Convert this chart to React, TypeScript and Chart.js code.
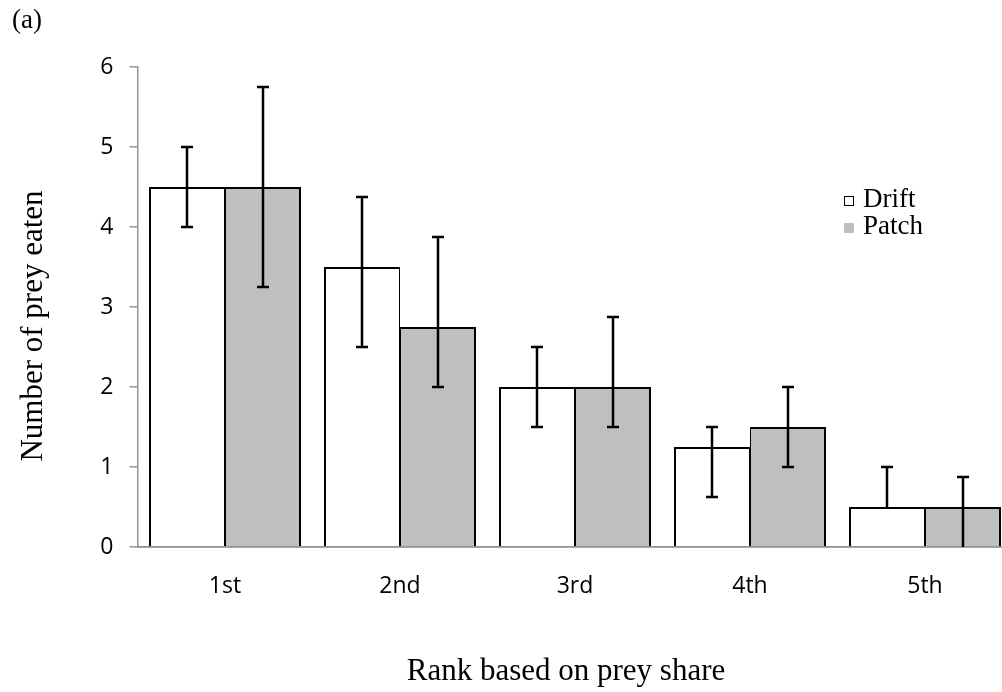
import React, { useEffect, useRef } from "react";
import { Chart, registerables } from "chart.js";

Chart.register(...registerables);

const categories = ["1st", "2nd", "3rd", "4th", "5th"];
const driftMeans = [4.5, 3.5, 2.0, 1.25, 0.5];
const patchMeans = [4.5, 2.75, 2.0, 1.5, 0.5];
const driftUpper = [5.0, 4.375, 2.5, 1.5, 1.0];
const driftLower: (number | null)[] = [4.0, 2.5, 1.5, 0.625, null];
const patchUpper = [5.75, 3.875, 2.875, 2.0, 0.875];
const patchLower: (number | null)[] = [3.25, 2.0, 1.5, 1.0, 0];
const yMin = 0;
const yMax = 6;
const yStep = 1;
const seriesNames = ["Drift", "Patch"];
const yTitle = "Number of prey eaten";
const xTitle = "Rank based on prey share";
const panelLabel = "(a)";

const AXIS = "#969696";
const PATCH_FILL = "#bfbfbf";
const SERIF = "'Liberation Serif', 'Times New Roman', serif";
const SANS = "'Open Sans', 'DejaVu Sans', sans-serif";

const overlayPlugin = {
  id: "overlay",
  afterDatasetsDraw(chart: any) {
    const ctx = chart.ctx;
    const y = chart.scales.y;
    const area = chart.chartArea;
    ctx.save();
    ctx.strokeStyle = AXIS;
    ctx.lineWidth = 1.5;
    ctx.beginPath();
    ctx.moveTo(area.left, area.bottom);
    ctx.lineTo(area.right, area.bottom);
    ctx.stroke();

    const sets = [
      { up: driftUpper, lo: driftLower, mean: driftMeans },
      { up: patchUpper, lo: patchLower, mean: patchMeans },
    ];
    ctx.strokeStyle = "#000";
    ctx.lineWidth = 2.5;
    const cap = 6;
    sets.forEach((s, di) => {
      const meta = chart.getDatasetMeta(di);
      meta.data.forEach((el: any, i: number) => {
        const x = el.x;
        const yTop = y.getPixelForValue(s.up[i]);
        const lo = s.lo[i];
        const yBot = lo == null ? y.getPixelForValue(s.mean[i]) : y.getPixelForValue(lo);
        ctx.beginPath();
        ctx.moveTo(x, yTop);
        ctx.lineTo(x, yBot);
        ctx.moveTo(x - cap, yTop);
        ctx.lineTo(x + cap, yTop);
        if (lo != null && lo > 0) {
          ctx.moveTo(x - cap, yBot);
          ctx.lineTo(x + cap, yBot);
        }
        ctx.stroke();
      });
    });
    ctx.restore();
  },
  afterDraw(chart: any) {
    const ctx = chart.ctx;
    ctx.save();
    ctx.fillStyle = "#000";
    ctx.font = `27px ${SERIF}`;
    ctx.textAlign = "left";
    ctx.textBaseline = "alphabetic";
    ctx.fillText(panelLabel, 12, 28);

    ctx.font = `31px ${SERIF}`;
    ctx.textAlign = "center";
    ctx.fillText(xTitle, 566, 680);

    ctx.save();
    ctx.translate(42, 326);
    ctx.rotate(-Math.PI / 2);
    ctx.textAlign = "center";
    ctx.fillText(yTitle, 0, 0);
    ctx.restore();

    ctx.font = `27px ${SERIF}`;
    ctx.textAlign = "left";
    ctx.strokeStyle = "#000";
    ctx.lineWidth = 1;
    ctx.strokeRect(844.5, 196.5, 9, 9);
    ctx.fillText(seriesNames[0], 863, 207);
    ctx.fillStyle = PATCH_FILL;
    ctx.fillRect(844, 223, 10, 10);
    ctx.fillStyle = "#000";
    ctx.fillText(seriesNames[1], 863, 234);
    ctx.restore();
  },
};

export default function App() {
  const ref = useRef<HTMLCanvasElement | null>(null);
  useEffect(() => {
    document.body.style.margin = "0";
    document.body.style.overflow = "hidden";
    const canvas = ref.current;
    if (!canvas) return;
    const chart = new Chart(canvas, {
      type: "bar",
      data: {
        labels: categories,
        datasets: [
          {
            label: seriesNames[0],
            data: driftMeans,
            backgroundColor: "#ffffff",
            borderColor: "#000000",
            borderWidth: { top: 2, left: 2, right: 1, bottom: 0 } as any,
            borderSkipped: "start",
            categoryPercentage: 0.8686,
            barPercentage: 1,
          },
          {
            label: seriesNames[1],
            data: patchMeans,
            backgroundColor: PATCH_FILL,
            borderColor: "#000000",
            borderWidth: { top: 2, left: 1, right: 2, bottom: 0 } as any,
            borderSkipped: "start",
            categoryPercentage: 0.8686,
            barPercentage: 1,
          },
        ],
      },
      options: {
        responsive: false,
        animation: false,
        layout: { padding: { top: 67, left: 0, right: 7.5, bottom: 0 } },
        plugins: {
          legend: { display: false },
          tooltip: { enabled: false },
          title: { display: false },
        },
        scales: {
          x: {
            type: "category",
            offset: true,
            grid: { display: false, drawTicks: false },
            border: { display: true, color: AXIS, width: 1.5 },
            ticks: {
              color: "#000",
              font: { family: SANS, size: 23 },
              padding: 26,
              maxRotation: 0,
            },
            afterFit: (s: any) => {
              s.height = 145;
            },
          },
          y: {
            min: yMin,
            max: yMax,
            grid: {
              display: true,
              drawOnChartArea: false,
              drawTicks: true,
              tickLength: 8,
              color: AXIS,
              lineWidth: 1.5,
            },
            border: { display: true, color: AXIS, width: 1.5 },
            ticks: {
              stepSize: yStep,
              color: "#000",
              font: { family: SANS, size: 23 },
              padding: 16,
            },
            afterFit: (s: any) => {
              s.width = 137.5;
            },
          },
        },
      },
      plugins: [overlayPlugin],
    });
    return () => chart.destroy();
  }, []);
  return (
    <div style={{ width: 1020, height: 692, overflow: "hidden" }}>
      <canvas ref={ref} width={1020} height={692} style={{ display: "block", width: 1020, height: 692 }} />
    </div>
  );
}
